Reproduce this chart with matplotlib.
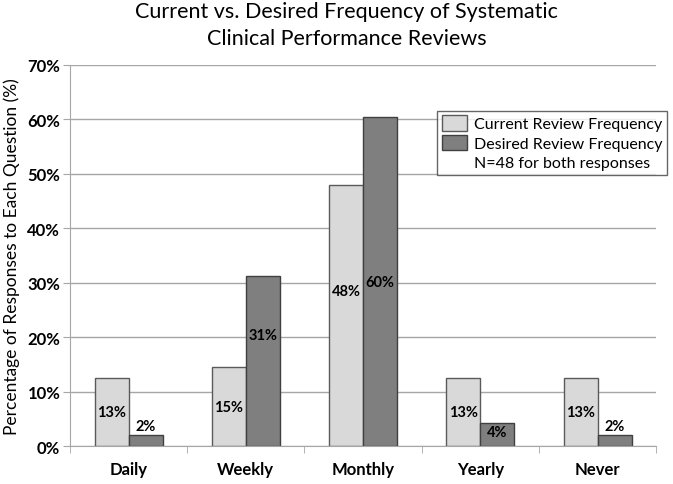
import matplotlib.pyplot as plt
import matplotlib.patches as mpatches
import numpy as np

# data
categories = ["Daily", "Weekly", "Monthly", "Yearly", "Never"]
current = [12.5, 14.58, 47.92, 12.5, 12.5]
desired = [2.08, 31.25, 60.42, 4.17, 2.08]
current_labels = ["13%", "15%", "48%", "13%", "13%"]
desired_labels = ["2%", "31%", "60%", "4%", "2%"]
# label heights as placed in the original (in % units)
current_label_y = [6.2, 7.2, 28.5, 6.2, 6.2]
desired_label_y = [3.7, 20.4, 30.1, 2.6, 3.7]

plt.rcParams['font.family'] = ['Lato', 'DejaVu Sans']

fig = plt.figure(figsize=(6.73, 4.85), dpi=100)
ax = fig.add_axes([0.104, 0.078, 0.871, 0.786])

x = np.arange(len(categories))
w = 0.29
ax.bar(x - w / 2, current, w, color="#d9d9d9", edgecolor="#5a5a5a", linewidth=1, zorder=2)
ax.bar(x + w / 2, desired, w, color="#7f7f7f", edgecolor="#404040", linewidth=1, zorder=2)

for i in range(len(categories)):
    ax.text(x[i] - w / 2, current_label_y[i], current_labels[i], ha="center", va="center",
            fontsize=10.5, fontweight="bold", zorder=3)
    ax.text(x[i] + w / 2, desired_label_y[i], desired_labels[i], ha="center", va="center",
            fontsize=10.5, fontweight="bold", zorder=3)

ax.set_xlim(-0.5, len(categories) - 0.5)
ax.set_ylim(0, 70)
ax.set_yticks(np.arange(0, 71, 10))
ax.set_yticklabels([f"{v}%" for v in range(0, 71, 10)], fontsize=12, fontweight="bold")
ax.yaxis.grid(True, color="#a6a6a6", linewidth=1, zorder=0)
ax.set_axisbelow(True)

ax.set_xticks(x)
ax.set_xticklabels(categories, fontsize=12, fontweight="bold")
ax.tick_params(axis="x", length=0, pad=11)
ax.set_xticks(np.arange(-0.5, len(categories), 1), minor=True)
ax.tick_params(axis="x", which="minor", length=5, color="#a6a6a6", direction="out")
ax.tick_params(axis="y", length=5, color="#a6a6a6", direction="out", pad=2)

for s in ["top", "right"]:
    ax.spines[s].set_visible(False)
ax.spines["left"].set_color("#a6a6a6")
ax.spines["bottom"].set_color("#a6a6a6")

ax.set_ylabel("Percentage of Responses to Each Question (%)", fontsize=12.5, labelpad=5)

fig.suptitle("Current vs. Desired Frequency of Systematic\nClinical Performance Reviews",
             fontsize=15.5, y=0.995, x=0.515, linespacing=1.4)

h1 = mpatches.Patch(facecolor="#d9d9d9", edgecolor="#5a5a5a", label="Current Review Frequency")
h2 = mpatches.Patch(facecolor="#7f7f7f", edgecolor="#404040", label="Desired Review Frequency")
h3 = mpatches.Patch(facecolor="none", edgecolor="none", label="N=48 for both responses")
leg = fig.legend(handles=[h1, h2, h3], loc="upper left", bbox_to_anchor=(0.649, 0.77),
                 fontsize=11.5, frameon=True, fancybox=False, edgecolor="#404040",
                 handlelength=1.6, handleheight=1.1, handletextpad=0.4, borderpad=0.3,
                 labelspacing=0.2, borderaxespad=0)
leg.get_frame().set_linewidth(1)

plt.savefig("out.png", dpi=100)
